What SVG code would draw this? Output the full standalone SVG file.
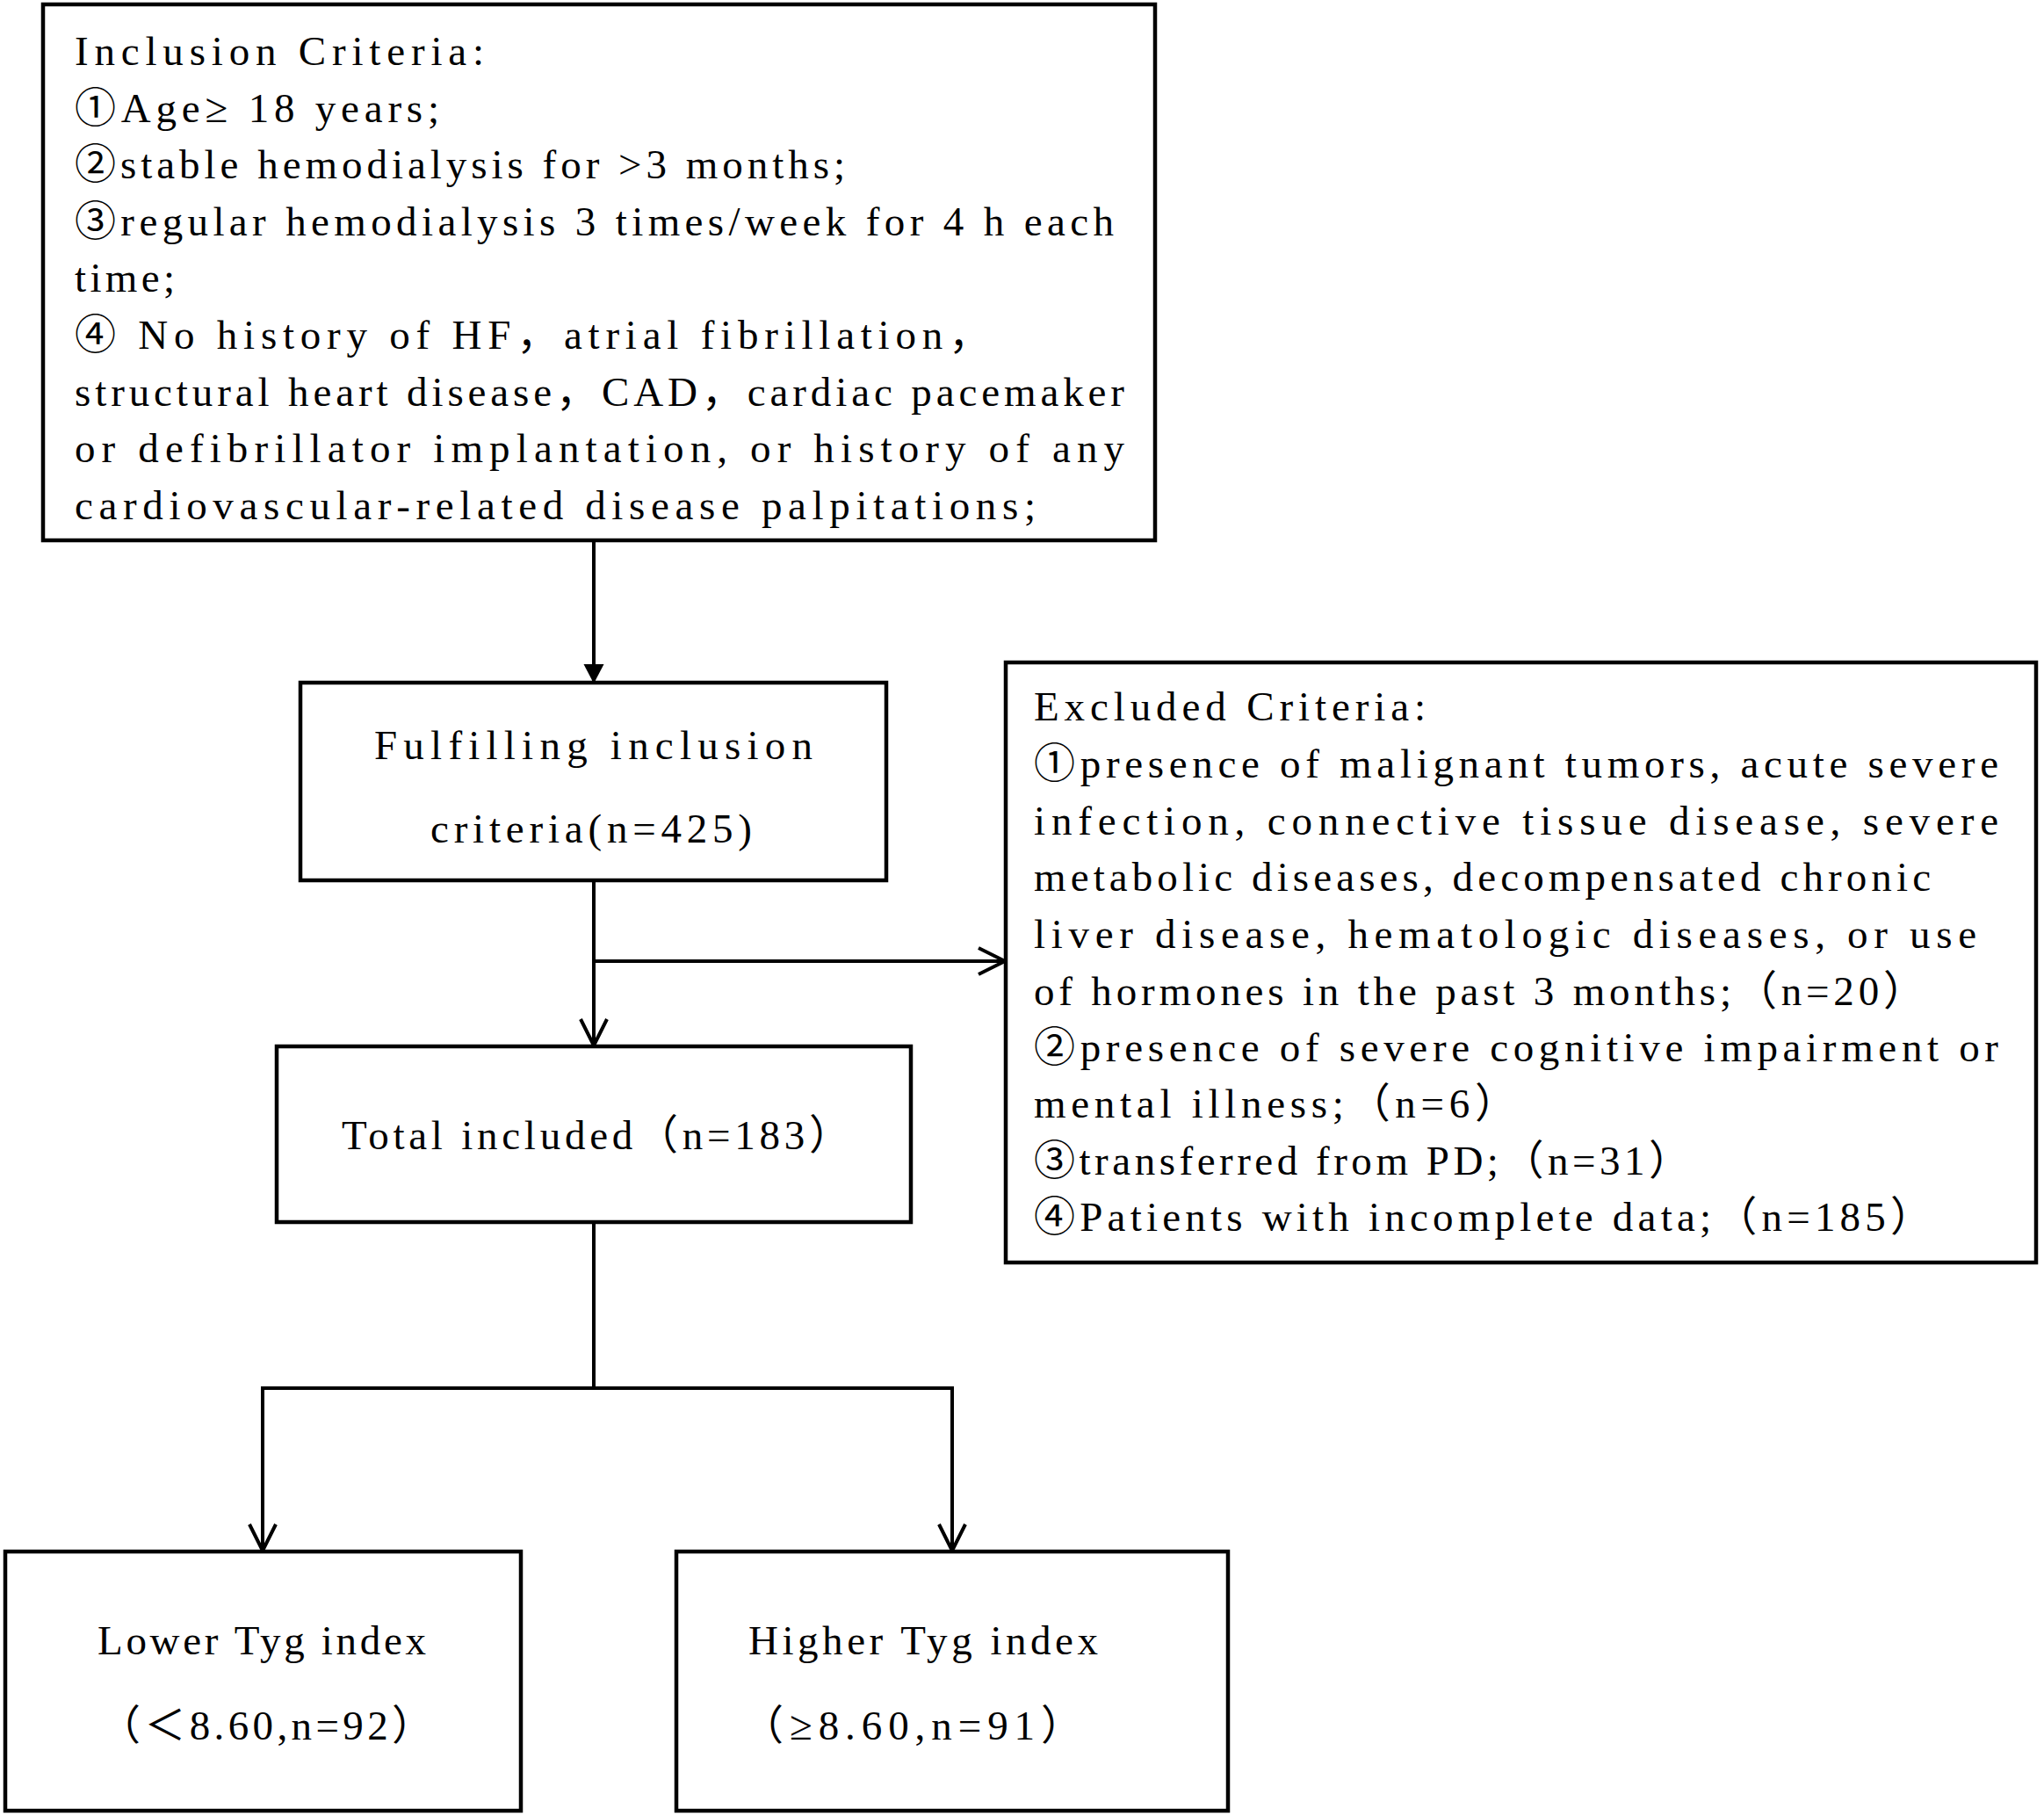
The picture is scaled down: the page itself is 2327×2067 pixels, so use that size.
<svg xmlns="http://www.w3.org/2000/svg" width="2327" height="2067" viewBox="0 0 2327 2067">
<style>
.box{fill:#fff;stroke:#000;stroke-width:4.5}
.t{font-family:"Liberation Serif","Noto Sans CJK SC",serif;font-size:47px;fill:#000}
.ln{fill:none;stroke:#000;stroke-width:4}
</style>
<defs>
<marker id="solid" markerUnits="userSpaceOnUse" markerWidth="24" markerHeight="24" refX="22" refY="11.5" orient="auto">
<path d="M0,0 L22,11.5 L0,23 z" fill="#000"/>
</marker>
<marker id="open" markerUnits="userSpaceOnUse" markerWidth="36" markerHeight="36" refX="31" refY="16" orient="auto" overflow="visible">
<path d="M1,1 L31,16 L1,31" fill="none" stroke="#000" stroke-width="4"/>
</marker>
</defs>
<rect width="2327" height="2067" fill="#fff"/>
<g id="connectors">
<path class="ln" d="M676 616 V778" marker-end="url(#solid)"/>
<path class="ln" d="M676 1002 V1190" marker-end="url(#open)"/>
<path class="ln" d="M676 1094 H1144" marker-end="url(#open)"/>
<path class="ln" d="M676 1391 V1580"/>
<path class="ln" d="M297 1580 H1086"/>
<path class="ln" d="M299 1580 V1765" marker-end="url(#open)"/>
<path class="ln" d="M1084 1580 V1765" marker-end="url(#open)"/>
</g>
<g id="inclusion">
<rect class="box" x="49" y="5" width="1266" height="610"/>
<text class="t" x="85" y="74" textLength="466" lengthAdjust="spacing">Inclusion Criteria:</text>
<text class="t" x="85" y="139" textLength="415" lengthAdjust="spacing">①Age≥ 18 years;</text>
<text class="t" x="85" y="203" textLength="877" lengthAdjust="spacing">②stable hemodialysis for &gt;3 months;</text>
<text class="t" x="85" y="268" textLength="1183" lengthAdjust="spacing">③regular hemodialysis 3 times/week for 4 h each</text>
<text class="t" x="85" y="332" textLength="114" lengthAdjust="spacing">time;</text>
<text class="t" x="85" y="397" textLength="1042" lengthAdjust="spacing">④ No history of HF，atrial fibrillation，</text>
<text class="t" x="85" y="462" textLength="1195" lengthAdjust="spacing">structural heart disease，CAD，cardiac pacemaker</text>
<text class="t" x="85" y="526" textLength="1195" lengthAdjust="spacing">or defibrillator implantation, or history of any</text>
<text class="t" x="85" y="591" textLength="1094" lengthAdjust="spacing">cardiovascular-related disease palpitations;</text>
</g>
<g id="fulfilling">
<rect class="box" x="342" y="777" width="667" height="225"/>
<text class="t" x="426" y="864" textLength="499" lengthAdjust="spacing">Fulfilling inclusion</text>
<text class="t" x="490" y="959" textLength="366" lengthAdjust="spacing">criteria(n=425)</text>
</g>
<g id="excluded">
<rect class="box" x="1145" y="754" width="1173" height="683"/>
<text class="t" x="1177" y="820" textLength="446" lengthAdjust="spacing">Excluded Criteria:</text>
<text class="t" x="1177" y="885" textLength="1098" lengthAdjust="spacing">①presence of malignant tumors, acute severe</text>
<text class="t" x="1177" y="950" textLength="1098" lengthAdjust="spacing">infection, connective tissue disease, severe</text>
<text class="t" x="1177" y="1014" textLength="1021" lengthAdjust="spacing">metabolic diseases, decompensated chronic</text>
<text class="t" x="1177" y="1079" textLength="1073" lengthAdjust="spacing">liver disease, hematologic diseases, or use</text>
<text class="t" x="1177" y="1144" textLength="1014" lengthAdjust="spacing">of hormones in the past 3 months;（n=20）</text>
<text class="t" x="1177" y="1208" textLength="1098" lengthAdjust="spacing">②presence of severe cognitive impairment or</text>
<text class="t" x="1177" y="1272" textLength="549" lengthAdjust="spacing">mental illness;（n=6）</text>
<text class="t" x="1177" y="1337" textLength="747" lengthAdjust="spacing">③transferred from PD;（n=31）</text>
<text class="t" x="1177" y="1401" textLength="1022" lengthAdjust="spacing">④Patients with incomplete data;（n=185）</text>
</g>
<g id="total">
<rect class="box" x="315" y="1191" width="722" height="200"/>
<text class="t" x="389" y="1308" textLength="579" lengthAdjust="spacing">Total included（n=183）</text>
</g>
<g id="lower">
<rect class="box" x="6" y="1766" width="587" height="295"/>
<text class="t" x="111" y="1883" textLength="374" lengthAdjust="spacing">Lower Tyg index</text>
<text class="t" x="113" y="1980" textLength="380" lengthAdjust="spacing">（＜8.60,n=92）</text>
</g>
<g id="higher">
<rect class="box" x="770" y="1766" width="628" height="295"/>
<text class="t" x="852" y="1883" textLength="398" lengthAdjust="spacing">Higher Tyg index</text>
<text class="t" x="845" y="1980" textLength="387" lengthAdjust="spacing">（≥8.60,n=91）</text>
</g>
</svg>
